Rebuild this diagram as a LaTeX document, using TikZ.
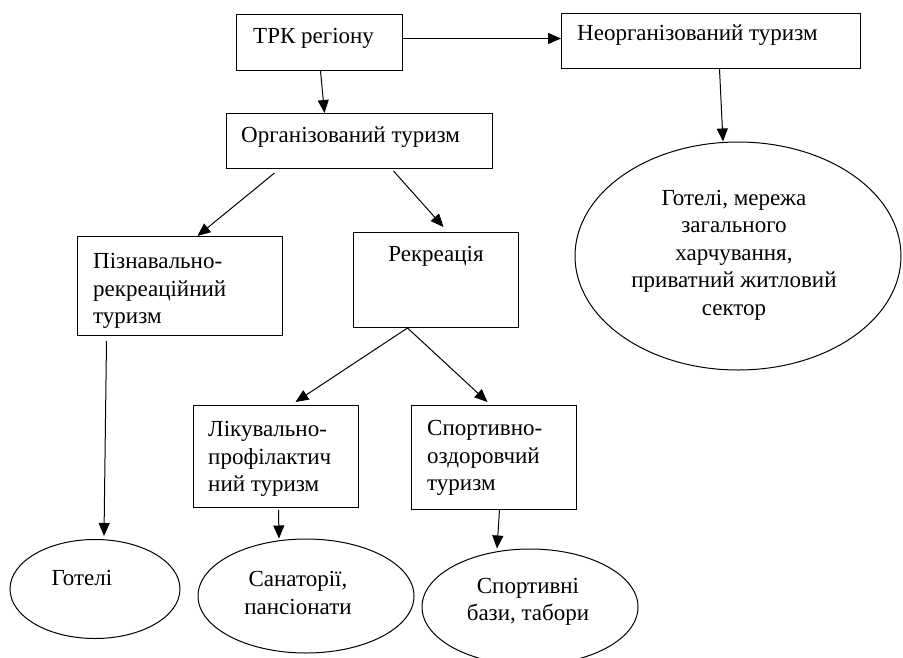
\documentclass[tikz,border=0pt]{standalone}
\usepackage{fontspec}
\setmainfont{Liberation Serif}
\usetikzlibrary{arrows.meta,shapes.geometric}
\begin{document}
\begin{tikzpicture}[x=1pt,y=-1pt,
  box/.style={draw, line width=1pt, rectangle, inner sep=0pt, anchor=north west},
  oval/.style={draw, line width=1pt, ellipse, inner sep=0pt},
  txt/.style={inner sep=0pt, font=\fontsize{23}{27.5}\selectfont},
  arr/.style={line width=1pt, -{Triangle[length=13pt,width=11pt]}}]
\useasboundingbox (0,0) rectangle (903,657);
\clip (0,0) rectangle (903,657);
% boxes
\node[box, minimum width=166pt, minimum height=56pt] (trk) at (236,14) {};
\node[box, minimum width=299pt, minimum height=55pt] (neorg) at (561,13) {};
\node[box, minimum width=266pt, minimum height=55pt] (org) at (226,113) {};
\node[box, minimum width=205pt, minimum height=99pt] (pizn) at (77,236) {};
\node[box, minimum width=165pt, minimum height=95pt] (rekr) at (353,232) {};
\node[box, minimum width=165pt, minimum height=102pt] (lik) at (193,405) {};
\node[box, minimum width=165pt, minimum height=104pt] (sport) at (411,405) {};
% ellipses
\node[oval, minimum width=326pt, minimum height=228pt] (eneorg) at (738,256) {};
\node[oval, minimum width=170pt, minimum height=99pt] (egot) at (95,589) {};
\node[oval, minimum width=216pt, minimum height=114pt] (esan) at (306,596) {};
\node[oval, minimum width=216pt, minimum height=116pt] (esport) at (530,607) {};
% texts
\node[txt, anchor=west] (ttrk) at (253,38) {ТРК регіону};
\node[txt, anchor=west] (tneorg) at (577,35) {Неорганізований туризм};
\node[txt, anchor=west] (torg) at (241,137) {Організований туризм};
\node[txt, anchor=west, align=left] (tpizn) at (93,291) {Пізнавально-\\рекреаційний\\туризм};
\node[txt] (trekr) at (436,256) {Рекреація};
\node[txt, anchor=west, align=left] (tlik) at (208,459) {Лікувально-\\профілактич\\ний туризм};
\node[txt, anchor=west, align=left] (tsport) at (427,458) {Спортивно-\\оздоровчий\\туризм};
\node[txt, align=center] (teneorg) at (734,255) {Готелі, мережа\\загального\\харчування,\\приватний житловий\\сектор};
\node[txt] (tegot) at (82,578) {Готелі};
\node[txt, align=center] (tesan) at (298,593) {Санаторії,\\пансіонати};
\node[txt, align=center] (tesport) at (528,602) {Спортивні\\бази, табори};
% connectors
\draw[arr] ([yshift=4pt]trk.east) -- ([yshift=2.5pt]neorg.west);
\draw[arr] ([xshift=1pt]trk.south) -- ([xshift=-35pt]org.north);
\draw[arr] ([xshift=-85pt,yshift=-4pt]org.south) -- ([xshift=17.5pt]pizn.north);
\draw[arr] ([xshift=34pt,yshift=-2pt]org.south) -- ([xshift=7.5pt,yshift=5pt]rekr.north);
\draw[arr] ([xshift=-28.5pt]rekr.south) -- ([xshift=19.5pt,yshift=3pt]lik.north);
\draw[arr] ([xshift=-28.5pt]rekr.south) -- ([xshift=-6.5pt,yshift=3pt]sport.north);
\draw[arr] ([xshift=-73.5pt,yshift=-5pt]pizn.south) -- ([xshift=9pt,yshift=3pt]egot.north);
\draw[arr] ([xshift=2.5pt,yshift=-2pt]lik.south) -- ([xshift=-27pt]esan.north);
\draw[arr] ([xshift=5.5pt]sport.south) -- ([xshift=-33pt]esport.north);
\draw[arr] ([xshift=8.5pt]neorg.south) -- ([xshift=-15pt]eneorg.north);
\end{tikzpicture}
\end{document}
